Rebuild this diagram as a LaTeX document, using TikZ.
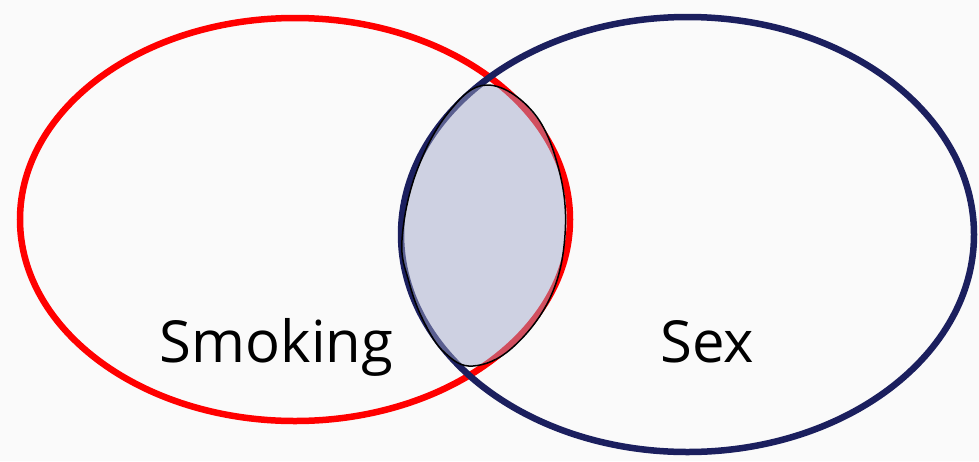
\documentclass[tikz,border=0pt]{standalone}
\usepackage{fontspec}
\setmainfont{Open Sans}
\definecolor{bg}{RGB}{250,250,250}
\definecolor{navy}{RGB}{27,31,94}
\definecolor{shade}{RGB}{160,166,200}
\tikzset{
  ring/.style={line width=6.5pt},
  lbl/.style={anchor=base, font=\fontsize{58}{60}\selectfont, inner sep=0pt},
}
\begin{document}
\begin{tikzpicture}[x=1pt,y=-1pt]
\fill[bg] (0,0) rectangle (979,461);
\useasboundingbox (0,0) rectangle (979,461);
\draw[ring, red] (295,219.5) ellipse [x radius=275, y radius=201.5];
\draw[ring, navy] (687.5,234.5) ellipse [x radius=286.5, y radius=217.5];
\draw[black, line width=1.5pt, fill=shade, fill opacity=0.48]
  plot[smooth cycle, tension=0.65] coordinates {
    (487,85) (533,112) (559,170) (565,235) (550,298) (512,348) (473,366)
    (445,353) (424,322) (409,282) (402,240) (416,173) (448,113)};
\node[lbl] (smoking) at (276.5,362) {Smoking};
\node[lbl] (sex) at (707,362) {Sex};
\end{tikzpicture}
\end{document}
